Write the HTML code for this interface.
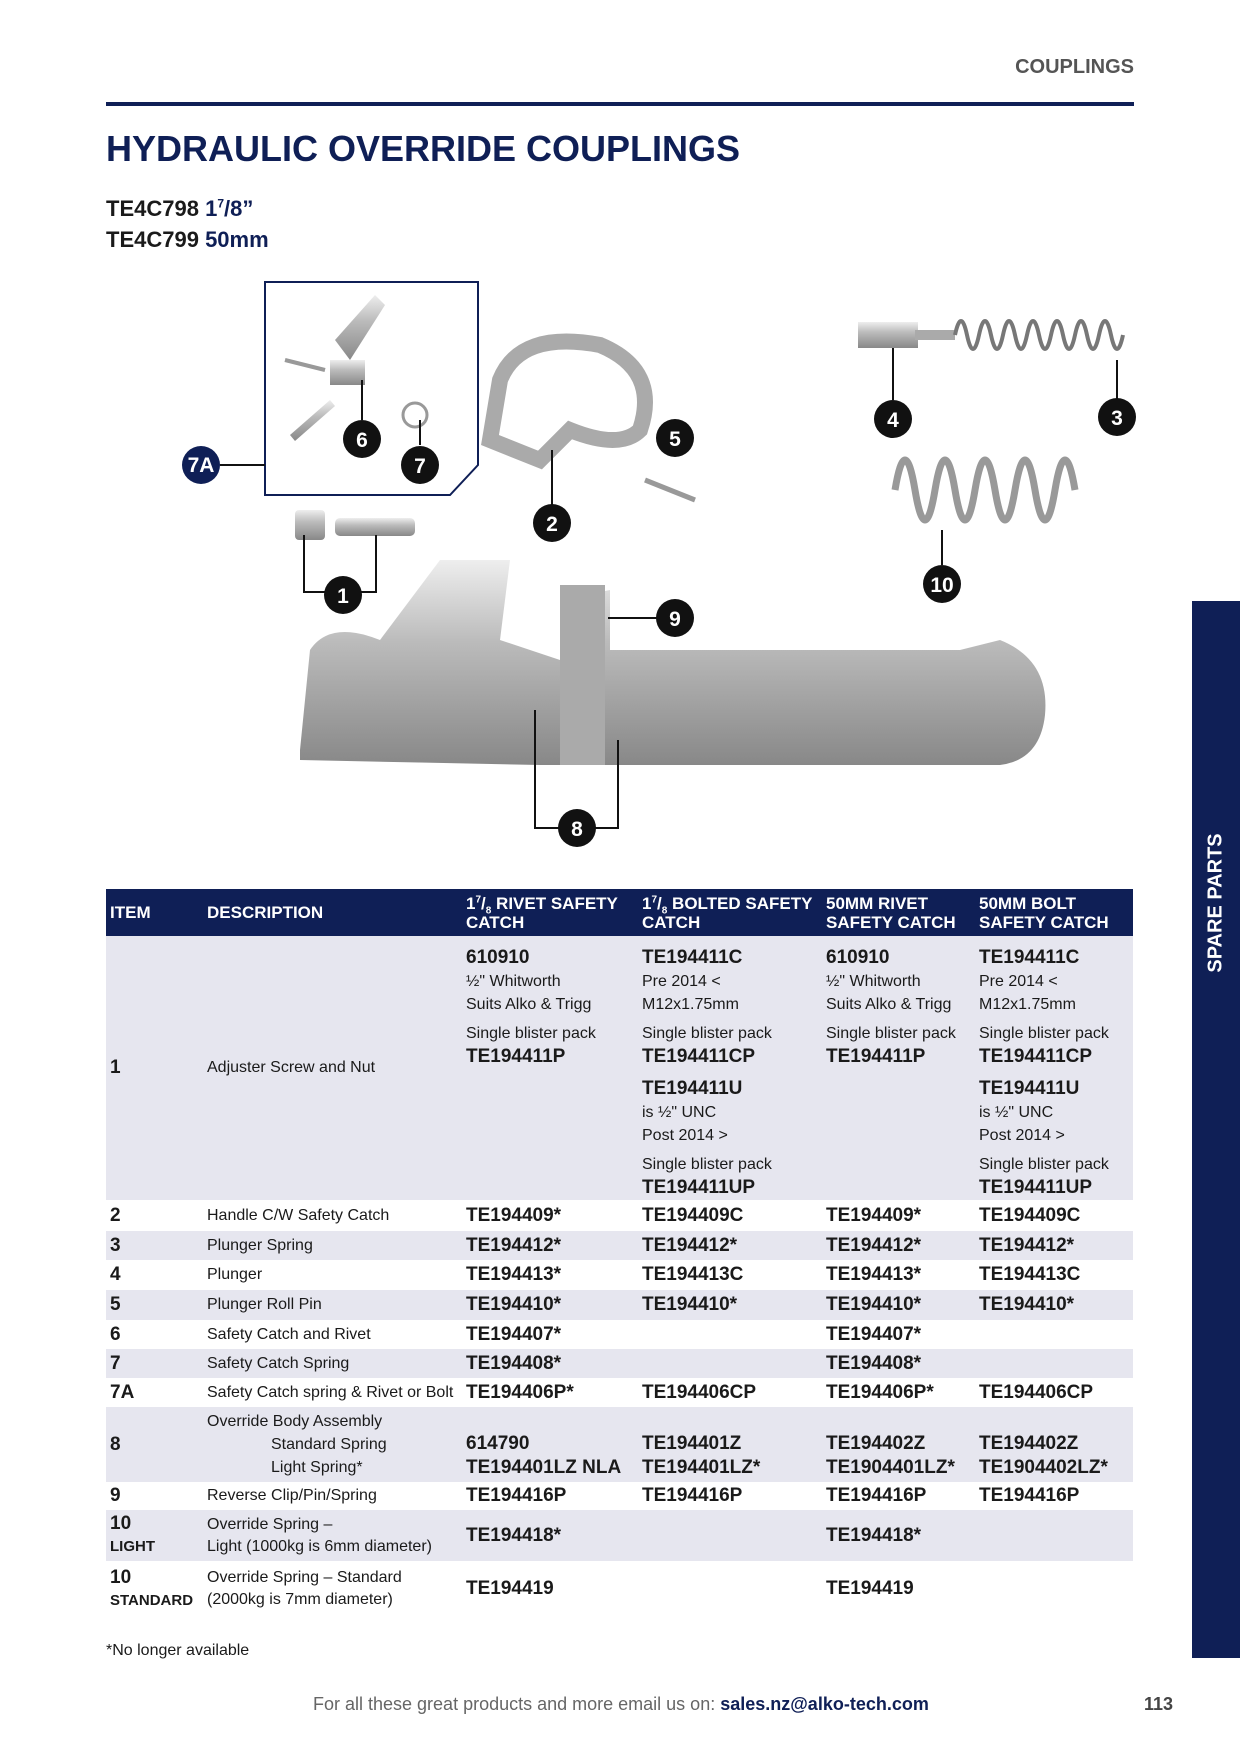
<!DOCTYPE html>
<html><head><meta charset="utf-8"><style>
*{margin:0;padding:0;box-sizing:border-box}
body{width:1240px;height:1754px;background:#fff;position:relative;overflow:hidden;font-family:"Liberation Sans Narrow","Liberation Sans",sans-serif;color:#1a1a1a}
.a{position:absolute;white-space:nowrap}
.nv{color:#0f1f56}
table{position:absolute;left:106px;top:889px;width:1027px;border-collapse:collapse;font-size:16px}
td,th{padding:0 4px;vertical-align:middle;text-align:left}
th{background:#0f1f56;color:#fff;font-size:17px;font-weight:bold;line-height:19px;height:47px}
th sup,th sub{font-size:10px;line-height:0}
.s td{background:#e6e6ef}
b{font-size:19px}
</style></head><body>
<div class="a" style="right:106px;top:56px;font-size:20px;font-weight:bold;color:#555">COUPLINGS</div>
<div class="a" style="left:106px;top:102px;width:1028px;height:4px;background:#0f1f56"></div>
<div class="a nv" style="left:106px;top:128px;font-size:36px;font-weight:bold">HYDRAULIC OVERRIDE COUPLINGS</div>
<div class="a" style="left:106px;top:196px;font-size:22px;font-weight:bold">TE4C798 <span class="nv">1<sup style="font-size:12px;line-height:0">7</sup>/8”</span></div>
<div class="a" style="left:106px;top:227px;font-size:22px;font-weight:bold">TE4C799 <span class="nv">50mm</span></div>
<div class="a" style="left:1192px;top:601px;width:48px;height:1057px;background:#0f1f56"></div>
<div class="a" style="left:1216px;top:903px;transform:translate(-50%,-50%) rotate(-90deg);color:#fff;font-size:20px;font-weight:bold;font-family:'Liberation Sans',sans-serif">SPARE PARTS</div>

<svg class="a" style="left:0;top:0" width="1240" height="880">
<defs><linearGradient id="g" x1="0" y1="0" x2="0" y2="1"><stop offset="0" stop-color="#eee"/><stop offset=".4" stop-color="#bbb"/><stop offset="1" stop-color="#888"/></linearGradient></defs>
<path d="M265 282H478V465L450 495H265Z" fill="none" stroke="#0f1f56" stroke-width="2"/>
<path d="M335 340L375 295L385 305L350 360Z" fill="url(#g)"/><path d="M330 360h35v25h-35z" fill="url(#g)"/>
<path d="M290 435l40-35 5 6-40 35z" fill="url(#g)"/><path d="M285 360l40 10" stroke="#999" stroke-width="4"/>
<circle cx="415" cy="415" r="12" fill="none" stroke="#999" stroke-width="3"/>
<path d="M500 380 Q520 330 600 345 Q660 370 640 430 Q620 450 570 430 L540 460 L490 440 Z" fill="none" stroke="#aaa" stroke-width="16"/>
<path d="M645 480l50 20" stroke="#999" stroke-width="5"/>
<rect x="858" y="322" width="60" height="26" fill="url(#g)"/><rect x="915" y="330" width="40" height="10" fill="#aaa"/>
<path d="M955 335 q6-28 12 0 q6 28 12 0 q6-28 12 0 q6 28 12 0 q6-28 12 0 q6 28 12 0 q6-28 12 0 q6 28 12 0 q6-28 12 0 q6 28 12 0 q6-28 12 0 q6 28 12 0 q6-28 12 0 q6 28 12 0" fill="none" stroke="#777" stroke-width="4"/>
<path d="M895 490 q10-60 20 0 q10 60 20 0 q10-60 20 0 q10 60 20 0 q10-60 20 0 q10 60 20 0 q10-60 20 0 q10 60 20 0 q10-60 20 0" fill="none" stroke="#999" stroke-width="7"/>
<rect x="295" y="510" width="30" height="30" rx="4" fill="url(#g)"/><rect x="335" y="518" width="80" height="18" rx="5" fill="url(#g)"/>
<path d="M300 750 L310 650 Q330 620 380 640 L440 560 L510 560 L500 640 L560 660 L560 600 L610 590 L610 650 L960 650 L1000 640 Q1050 660 1045 715 Q1040 760 1000 765 L960 765 L610 765 L540 765 L300 760Z" fill="url(#g)"/>
<rect x="560" y="585" width="45" height="180" fill="#aaa"/>
<g stroke="#111" stroke-width="2" fill="none"><path d="M304 535V592H376V535"/><path d="M552 450V506"/><path d="M608 618H675"/><path d="M893 348V400"/><path d="M1117 360V400"/><path d="M942 530V565"/><path d="M535 710V828H618V740"/><path d="M265 465H220"/><path d="M362 380V420"/><path d="M420 420V445"/></g>
<g font-family="Liberation Sans" font-weight="bold" font-size="21" fill="#fff" text-anchor="middle">
<circle cx="201" cy="465" r="19" fill="#0f1f56"/><text x="201" y="472">7A</text>
<g fill="#111"><circle cx="362" cy="439" r="19"/><circle cx="420" cy="465" r="19"/><circle cx="675" cy="438" r="19"/><circle cx="552" cy="523" r="19"/><circle cx="893" cy="419" r="19"/><circle cx="1117" cy="417" r="19"/><circle cx="942" cy="584" r="19"/><circle cx="343" cy="595" r="19"/><circle cx="675" cy="618" r="19"/><circle cx="577" cy="828" r="19"/></g>
<text x="362" y="447">6</text><text x="420" y="473">7</text><text x="675" y="446">5</text><text x="552" y="531">2</text><text x="893" y="427">4</text><text x="1117" y="425">3</text><text x="942" y="592">10</text><text x="343" y="603">1</text><text x="675" y="626">9</text><text x="577" y="836">8</text></g>
</svg>

<table>
<colgroup><col style="width:97px"><col style="width:259px"><col style="width:176px"><col style="width:184px"><col style="width:153px"><col></colgroup>
<tr><th>ITEM</th><th>DESCRIPTION</th><th>1<sup>7</sup>/<sub>8</sub> RIVET SAFETY<br>CATCH</th><th>1<sup>7</sup>/<sub>8</sub> BOLTED SAFETY<br>CATCH</th><th>50MM RIVET<br>SAFETY CATCH</th><th>50MM BOLT<br>SAFETY CATCH</th></tr>
<tr class="s" style="height:263px"><td><b>1</b></td><td>Adjuster Screw and Nut</td>
<td style="vertical-align:top;padding-top:10px;line-height:23px"><b>610910</b><br>½" Whitworth<br>Suits Alko &amp; Trigg<br><div style="margin-top:6px">Single blister pack</div><b>TE194411P</b></td>
<td style="vertical-align:top;padding-top:10px;line-height:23px"><b>TE194411C</b><br>Pre 2014 &lt;<br>M12x1.75mm<br><div style="margin-top:6px">Single blister pack</div><b>TE194411CP</b><div style="margin-top:8px"><b>TE194411U</b><br>is ½" UNC<br>Post 2014 &gt;<div style="margin-top:6px">Single blister pack</div><b>TE194411UP</b></div></td>
<td style="vertical-align:top;padding-top:10px;line-height:23px"><b>610910</b><br>½" Whitworth<br>Suits Alko &amp; Trigg<br><div style="margin-top:6px">Single blister pack</div><b>TE194411P</b></td>
<td style="vertical-align:top;padding-top:10px;line-height:23px"><b>TE194411C</b><br>Pre 2014 &lt;<br>M12x1.75mm<br><div style="margin-top:6px">Single blister pack</div><b>TE194411CP</b><div style="margin-top:8px"><b>TE194411U</b><br>is ½" UNC<br>Post 2014 &gt;<div style="margin-top:6px">Single blister pack</div><b>TE194411UP</b></div></td></tr>
<tr style="height:31px"><td><b>2</b></td><td>Handle C/W Safety Catch</td><td><b>TE194409*</b></td><td><b>TE194409C</b></td><td><b>TE194409*</b></td><td><b>TE194409C</b></td></tr>
<tr class="s" style="height:29px"><td><b>3</b></td><td>Plunger Spring</td><td><b>TE194412*</b></td><td><b>TE194412*</b></td><td><b>TE194412*</b></td><td><b>TE194412*</b></td></tr>
<tr style="height:30px"><td><b>4</b></td><td>Plunger</td><td><b>TE194413*</b></td><td><b>TE194413C</b></td><td><b>TE194413*</b></td><td><b>TE194413C</b></td></tr>
<tr class="s" style="height:30px"><td><b>5</b></td><td>Plunger Roll Pin</td><td><b>TE194410*</b></td><td><b>TE194410*</b></td><td><b>TE194410*</b></td><td><b>TE194410*</b></td></tr>
<tr style="height:29px"><td><b>6</b></td><td>Safety Catch and Rivet</td><td><b>TE194407*</b></td><td></td><td><b>TE194407*</b></td><td></td></tr>
<tr class="s" style="height:29px"><td><b>7</b></td><td>Safety Catch Spring</td><td><b>TE194408*</b></td><td></td><td><b>TE194408*</b></td><td></td></tr>
<tr style="height:29px"><td><b>7A</b></td><td>Safety Catch spring &amp; Rivet or Bolt</td><td><b>TE194406P*</b></td><td><b>TE194406CP</b></td><td><b>TE194406P*</b></td><td><b>TE194406CP</b></td></tr>
<tr class="s" style="height:75px"><td><b>8</b></td><td style="line-height:23px">Override Body Assembly<br><span style="padding-left:64px">Standard Spring</span><br><span style="padding-left:64px">Light Spring*</span></td><td style="padding-top:22px;line-height:23px"><b>614790<br>TE194401LZ NLA</b></td><td style="padding-top:22px;line-height:23px"><b>TE194401Z<br>TE194401LZ*</b></td><td style="padding-top:22px;line-height:23px"><b>TE194402Z<br>TE1904401LZ*</b></td><td style="padding-top:22px;line-height:23px"><b>TE194402Z<br>TE1904402LZ*</b></td></tr>
<tr style="height:28px"><td><b>9</b></td><td>Reverse Clip/Pin/Spring</td><td><b>TE194416P</b></td><td><b>TE194416P</b></td><td><b>TE194416P</b></td><td><b>TE194416P</b></td></tr>
<tr class="s" style="height:51px"><td style="line-height:22px"><b>10</b><br><span style="font-weight:bold;font-size:15px">LIGHT</span></td><td style="line-height:22px">Override Spring –<br>Light (1000kg is 6mm diameter)</td><td><b>TE194418*</b></td><td></td><td><b>TE194418*</b></td><td></td></tr>
<tr style="height:56px"><td style="line-height:22px"><b>10</b><br><span style="font-weight:bold;font-size:15px">STANDARD</span></td><td style="line-height:22px">Override Spring – Standard<br>(2000kg is 7mm diameter)</td><td><b>TE194419</b></td><td></td><td><b>TE194419</b></td><td></td></tr>
</table>
<div class="a" style="left:106px;top:1642px;font-size:16px">*No longer available</div>
<div class="a" style="left:313px;top:1694px;font-size:18px;color:#666">For all these great products and more email us on: <b style="color:#0f1f56;font-size:18px">sales.nz@alko-tech.com</b></div>
<div class="a" style="left:1144px;top:1694px;font-size:18px;font-weight:bold;color:#444">113</div>
</body></html>
